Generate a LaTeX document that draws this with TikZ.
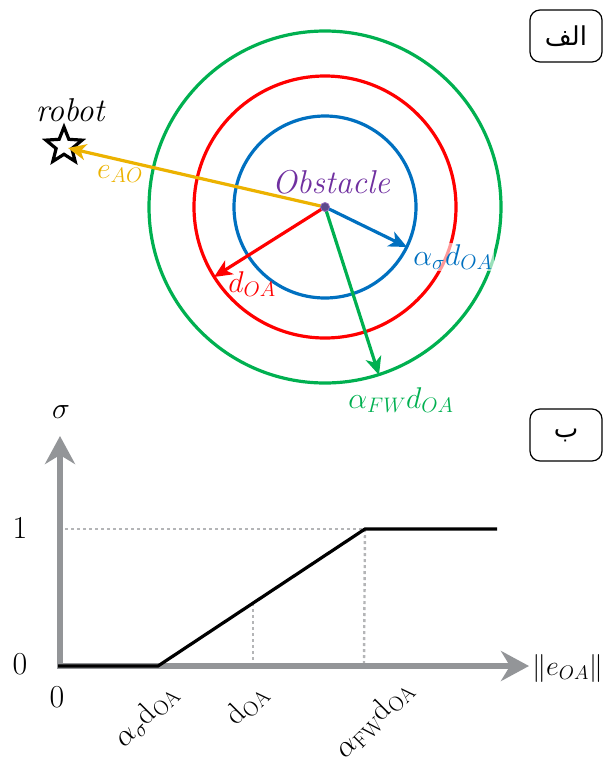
\RequirePackage{fix-cm}
\documentclass[tikz,border=0pt]{standalone}
\usepackage{fontspec}
\usetikzlibrary{arrows.meta,shapes.geometric}
\newfontfamily\arabicfont[Script=Arabic]{DejaVu Sans}
\TeXXeTstate=1
\definecolor{cBlue}{RGB}{0,112,192}
\definecolor{cRed}{RGB}{255,0,0}
\definecolor{cGreen}{RGB}{0,176,80}
\definecolor{cGold}{RGB}{236,178,0}
\definecolor{cPurple}{RGB}{112,48,160}
\definecolor{cGray}{RGB}{147,149,152}
\definecolor{cDot}{RGB}{90,74,140}
\begin{document}
\begin{tikzpicture}[x=1pt,y=-1pt,
  ring/.style={line width=3.2pt},
  vec/.style={line width=3.2pt,-{Stealth[length=18pt,width=16pt,inset=5pt]}},
  lblbox/.style={draw,line width=1.2pt,rounded corners=10pt,minimum width=72pt,minimum height=52pt,inner sep=0pt,font=\fontsize{26}{30}\selectfont},
  axis/.style={cGray,line width=5.5pt,-{Stealth[length=28pt,width=30pt,inset=9pt]}},
  guide/.style={cGray!70,line width=2.4pt,dash pattern=on 3pt off 3pt},
  txt/.style={inner sep=1pt,font=\fontsize{30}{34}\selectfont},
  tick/.style={inner sep=1pt,font=\fontsize{32}{36}\selectfont}]
\useasboundingbox (0,0) rectangle (609,769);
% ---------- top part ----------
\coordinate (C) at (325,207);
\draw[ring,cBlue] (C) circle[radius=91];
\draw[ring,cRed] (C) circle[radius=131];
\draw[ring,cGreen] (C) circle[radius=176];
\node[star,star points=5,star point ratio=2.3,draw=black,fill=white,line width=3.2pt,minimum size=38pt,inner sep=0pt] (R) at (64,146) {};
\node[txt,font=\fontsize{33}{36}\selectfont\itshape] (robot) at (70,110) {robot};
\coordinate (Ytip) at (68,148);
\coordinate (Btip) at (407,247);
\coordinate (Rtip) at (214,277);
\coordinate (Gtip) at (379,375);
\draw[vec,cGold] (C) -- (Ytip);
\draw[vec,cBlue] (C) -- (Btip);
\draw[vec,cRed] (C) -- (Rtip);
\draw[vec,cGreen] (C) -- (Gtip);
\node[circle,fill=cDot,draw=cPurple!70,line width=0.8pt,minimum size=9pt,inner sep=0pt] (dot) at (C) {};
\node[txt,text=cPurple,font=\fontsize{33}{36}\selectfont\itshape] (obs) at (331,182) {Obstacle};
\node[txt,text=cGold] (eao) at (120,174) {$e_{AO}$};
\node[txt,text=cBlue,fill=white,fill opacity=0.6,text opacity=1] (asig) at (453,257) {$\alpha_\sigma d_{OA}$};
\node[txt,text=cRed] (doa) at (252,284) {$d_{OA}$};
\node[txt,text=cGreen] (afw) at (401,400) {$\alpha_{FW} d_{OA}$};
\node[lblbox] (boxA) at (566,36) {\arabicfont\beginR الف\endR};
% ---------- bottom part ----------
\node[lblbox] (boxB) at (566,435) {\arabicfont\beginR ب\endR};
\coordinate (O) at (60,666);
\coordinate (Ytop) at (60,436);
\coordinate (Xend) at (529,666);
\coordinate (P1) at (158,666);
\coordinate (P2) at (365,529);
\coordinate (P3) at (497,529);
\coordinate (L1) at (65,529);
\coordinate (M) at (253,603);
\coordinate (Mb) at (253,664);
\coordinate (Nb) at (364,664);
\draw[guide] (L1) -- (P2);
\draw[guide] (M) -- (Mb);
\draw[guide] (P2) -- (Nb);
\draw[axis] (O) -- (Ytop);
\draw[axis] ([xshift=-2.75pt]O) -- (Xend);
\draw[black,line width=3.2pt] (58,666) -- (P1) -- (P2) -- (P3);
\node[txt] (sig) at (61,412) {$\sigma$};
\node[tick] (one) at (20,528) {1};
\node[tick] (zero) at (20,664) {0};
\node[tick] (zeroB) at (57,697) {0};
\node[txt,anchor=west,font=\fontsize{28}{32}\selectfont] (enorm) at (531,668) {$\|e_{OA}\|$};
\node[txt,rotate=45] (t1) at (146,716) {$\alpha_\sigma\mathrm{d}_{\mathrm{OA}}$};
\node[txt,rotate=45] (t2) at (247,705) {$\mathrm{d}_{\mathrm{OA}}$};
\node[txt,rotate=45] (t3) at (374,719) {$\alpha_{\mathrm{FW}}\mathrm{d}_{\mathrm{OA}}$};
\end{tikzpicture}
\end{document}
